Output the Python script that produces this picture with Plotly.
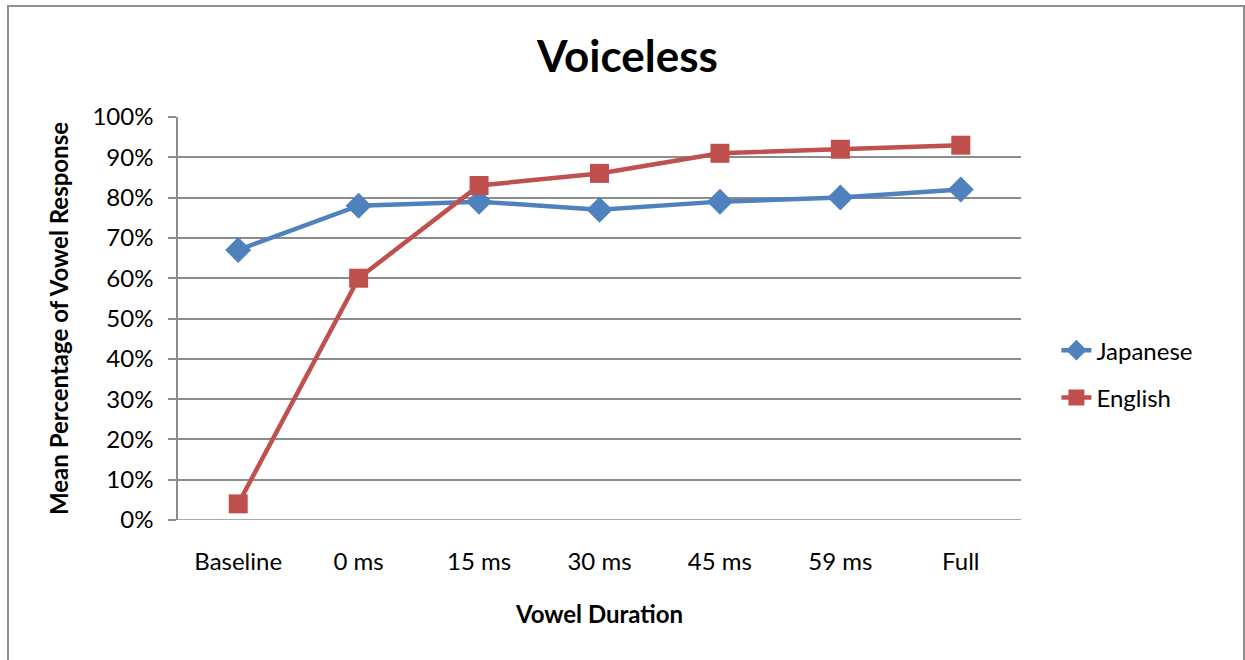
import plotly.graph_objects as go

categories = ["Baseline", "0 ms", "15 ms", "30 ms", "45 ms", "59 ms", "Full"]
japanese = [0.67, 0.78, 0.79, 0.77, 0.79, 0.80, 0.82]
english = [0.04, 0.60, 0.83, 0.86, 0.91, 0.92, 0.93]

BLUE = "#4F81BD"
RED = "#C0504D"
GRID = "#8C8C8C"
FONT = "Lato"

fig = go.Figure()
fig.add_trace(go.Scatter(
    x=categories, y=japanese, name="Japanese", mode="lines+markers",
    line=dict(color=BLUE, width=4.5),
    marker=dict(symbol="diamond", size=20, color=BLUE),
    legendgroup="a",
))
fig.add_trace(go.Scatter(
    x=categories, y=english, name="English", mode="lines+markers",
    line=dict(color=RED, width=4.5),
    marker=dict(symbol="square", size=19, color=RED),
    legendgroup="b",
))

fig.update_layout(
    width=1245, height=660,
    margin=dict(l=178, r=224, t=117, b=140),
    paper_bgcolor="white", plot_bgcolor="white",
    font=dict(family=FONT, size=24, color="black"),
    title=dict(text="<b>Voiceless</b>", x=0.504, xanchor="center",
               y=1 - 57 / 660, yanchor="middle",
               font=dict(size=44, family=FONT)),
    legend=dict(x=1.042, y=0.362, xanchor="left", yanchor="middle",
                font=dict(size=24), tracegroupgap=13,
                bgcolor="rgba(0,0,0,0)"),
    showlegend=True,
)

fig.update_xaxes(
    type="category", range=[-0.5, 6.5],
    showgrid=False, showline=False, ticks="",
    tickfont=dict(size=24), ticklabelstandoff=25,
    title=dict(text="<b>Vowel Duration</b>", font=dict(size=24), standoff=32),
)
fig.update_yaxes(
    range=[0, 1], dtick=0.1, tickformat=".0%",
    showgrid=True, gridcolor=GRID, gridwidth=1.5,
    showline=True, linecolor=GRID, linewidth=1.5,
    ticks="outside", ticklen=8, tickcolor=GRID, tickwidth=1.5,
    tickfont=dict(size=24), zeroline=False, ticklabelstandoff=10,
    title=dict(text="<b>Mean Percentage of Vowel Response</b>",
               font=dict(size=24), standoff=17),
)

# 0% baseline drawn across the plot area
fig.add_shape(type="line", xref="paper", yref="y", x0=0, x1=1, y0=0, y1=0,
              line=dict(color=GRID, width=1.5))

# outer chart border
fig.add_shape(type="rect", xref="paper", yref="paper",
              x0=(8 - 178) / 843, x1=(1244 - 178) / 843,
              y0=(140 - 700) / 403, y1=(660 - 6 - 140) / 403,
              line=dict(color="#8E8E8E", width=2), layer="below")

fig.write_html("out.html")
